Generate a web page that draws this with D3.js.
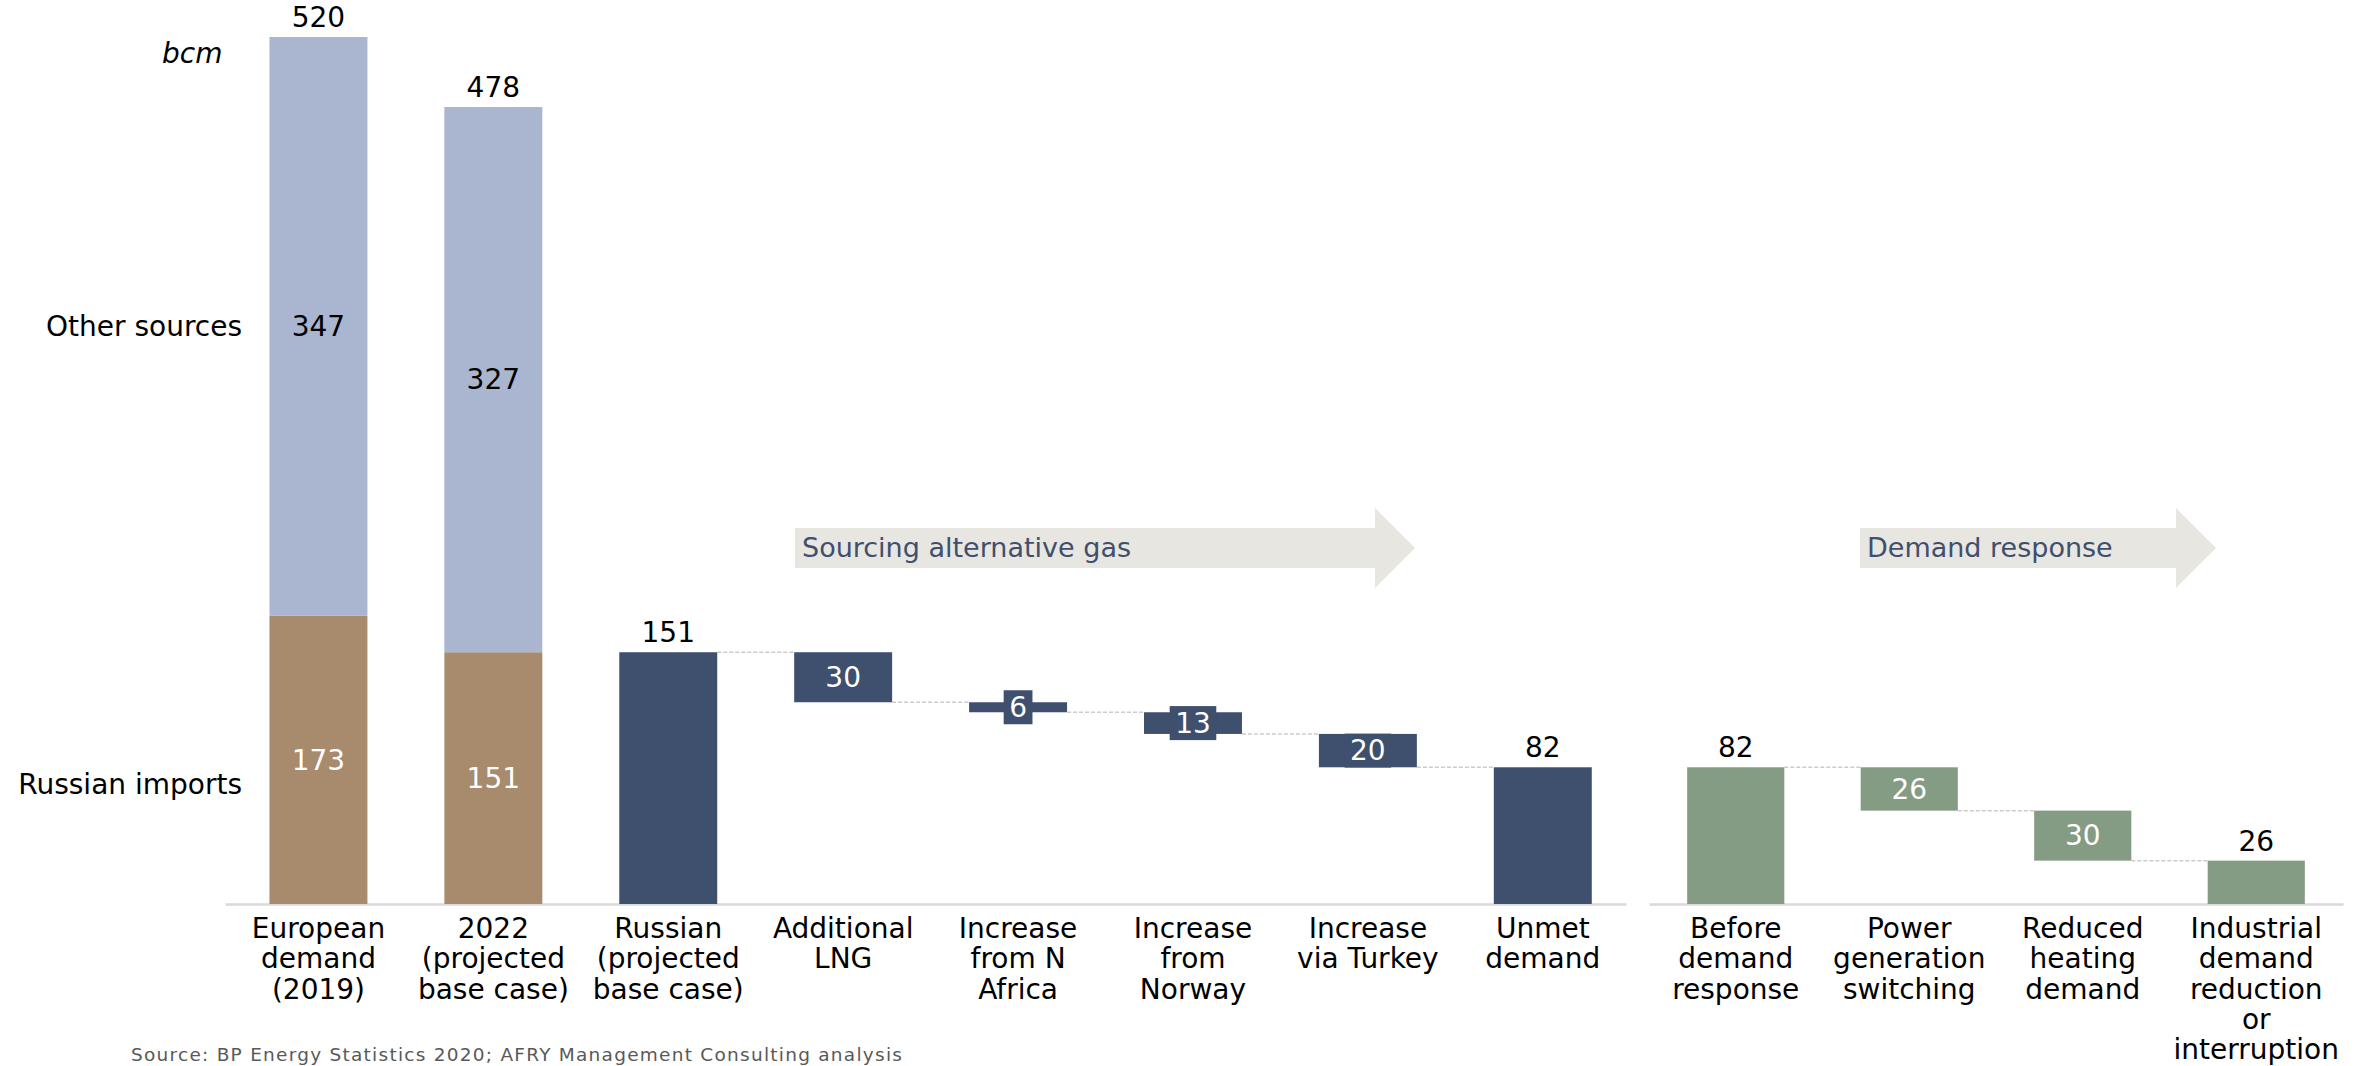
<!DOCTYPE html>
<html>
<head>
<meta charset="utf-8">
<script src="https://cdn.jsdelivr.net/npm/d3@7"></script>
<style>
  html, body { margin: 0; padding: 0; background: #ffffff; }
  svg { display: block; font-family: "DejaVu Sans", Verdana, sans-serif; }
</style>
</head>
<body>
<svg id="chart" width="2369" height="1066"></svg>
<script>
// ---------------- DATA ----------------
const stackCategories = ["European demand (2019)", "2022 (projected base case)"];
const russianImports = [173, 151];
const otherSources = [347, 327];
const stackTotals = [520, 478];

const sourcingCategories = ["Russian (projected base case)", "Additional LNG", "Increase from N Africa",
  "Increase from Norway", "Increase via Turkey", "Unmet demand"];
const sourcingValues = [151, -30, -6, -13, -20, 82];      // first & last are totals
const sourcingIsTotal = [true, false, false, false, false, true];

const demandCategories = ["Before demand response", "Power generation switching", "Reduced heating demand",
  "Industrial demand reduction or interruption"];
const demandValues = [82, -26, -30, 26];                  // first & last are totals
const demandIsTotal = [true, false, false, true];

const tickLinesLeft = [
  ["European", "demand", "(2019)"],
  ["2022", "(projected", "base case)"],
  ["Russian", "(projected", "base case)"],
  ["Additional", "LNG"],
  ["Increase", "from N", "Africa"],
  ["Increase", "from", "Norway"],
  ["Increase", "via Turkey"],
  ["Unmet", "demand"]
];
const tickLinesRight = [
  ["Before", "demand", "response"],
  ["Power", "generation", "switching"],
  ["Reduced", "heating", "demand"],
  ["Industrial", "demand", "reduction", "or", "interruption"]
];
const seriesNames = ["Other sources", "Russian imports"];
const arrowLabels = ["Sourcing alternative gas", "Demand response"];
const unitLabel = "bcm";
const sourceNote = "Source: BP Energy Statistics 2020; AFRY Management Consulting analysis";

// ---------------- STYLE ----------------
const C = {
  other: "#aab6cf", russian: "#a88a6d", navy: "#3f4f6e", green: "#849c84",
  arrow: "#e8e6e0", arrowText: "#3f4f6e", axis: "#d9d9d9", conn: "#cccccc"
};
const FS = 28;

const svg = d3.select("#chart");

// ---------------- SCALES ----------------
const leftCats = stackCategories.concat(sourcingCategories);
const xL = d3.scaleBand().domain(leftCats).range([225, 1626])
  .paddingInner(0.44).paddingOuter(0.225).align(0.565);
const xR = d3.scaleBand().domain(demandCategories).range([1649, 2343])
  .paddingInner(0.44).paddingOuter(0.22);
const y = d3.scaleLinear().domain([0, 520]).range([904, 37]);

// ---------------- AXES ----------------
function drawAxis(scale, lines) {
  const g = svg.append("g").attr("transform", `translate(0,${y(0)})`)
    .call(d3.axisBottom(scale).tickSize(0).tickSizeOuter(0));
  g.select(".domain").attr("stroke", C.axis).attr("stroke-width", 2.5);
  g.selectAll(".tick text").each(function(d, i) {
    const t = d3.select(this).text(null)
      .attr("y", 34).attr("dy", null)
      .attr("font-size", FS).attr("font-family", '"DejaVu Sans", Verdana, sans-serif')
      .attr("fill", "#000");
    lines[i].forEach((ln, j) => {
      t.append("tspan").attr("x", 0).attr("dy", j === 0 ? 0 : 30.3).text(ln);
    });
  });
}
drawAxis(xL, tickLinesLeft);
drawAxis(xR, tickLinesRight);

// ---------------- ARROWS ----------------
function drawArrow(x0, x1, xt, label) {
  const top = 528, bot = 568, htop = 508, hbot = 588, mid = 548;
  svg.append("path")
    .attr("d", `M${x0},${top} L${x1},${top} L${x1},${htop} L${xt},${mid} L${x1},${hbot} L${x1},${bot} L${x0},${bot} Z`)
    .attr("fill", C.arrow);
  svg.append("text").attr("x", x0 + 7).attr("y", mid).attr("dy", "0.35em")
    .attr("font-size", 27).attr("fill", C.arrowText).text(label);
}
drawArrow(795, 1375, 1415, arrowLabels[0]);
drawArrow(1860, 2176, 2216, arrowLabels[1]);

// ---------------- STACKED BARS ----------------
const stackG = svg.append("g");
stackCategories.forEach((cat, i) => {
  const x = xL(cat), w = xL.bandwidth(), cx = x + w / 2;
  const r = russianImports[i], o = otherSources[i];
  stackG.append("rect").attr("x", x).attr("width", w)
    .attr("y", y(r)).attr("height", y(0) - y(r)).attr("fill", C.russian);
  stackG.append("rect").attr("x", x).attr("width", w)
    .attr("y", y(r + o)).attr("height", y(r) - y(r + o)).attr("fill", C.other);
  stackG.append("text").attr("x", cx).attr("y", y(r / 2)).attr("dy", "0.35em")
    .attr("text-anchor", "middle").attr("font-size", FS).attr("fill", "#fff").text(r);
  stackG.append("text").attr("x", cx).attr("y", y(r + o / 2)).attr("dy", "0.35em")
    .attr("text-anchor", "middle").attr("font-size", FS).attr("fill", "#000").text(o);
  stackG.append("text").attr("x", cx).attr("y", y(stackTotals[i]) - 10)
    .attr("text-anchor", "middle").attr("font-size", FS).attr("fill", "#000").text(stackTotals[i]);
});

// ---------------- WATERFALLS ----------------
function drawWaterfall(scale, cats, vals, isTotal, color) {
  const g = svg.append("g");
  let running = 0;
  const segs = cats.map((c, i) => {
    let lo, hi;
    if (isTotal[i]) { lo = 0; hi = vals[i]; running = vals[i]; }
    else { hi = running; running = running + vals[i]; lo = running; }
    return { c, lo, hi, total: isTotal[i], v: vals[i], end: running };
  });
  // connectors
  segs.forEach((s, i) => {
    if (i === segs.length - 1) return;
    const level = s.total ? s.hi : s.lo;
    g.append("line")
      .attr("x1", scale(s.c) + scale.bandwidth()).attr("x2", scale(segs[i + 1].c))
      .attr("y1", y(level)).attr("y2", y(level))
      .attr("stroke", C.conn).attr("stroke-width", 1.5).attr("stroke-dasharray", "4,2");
  });
  segs.forEach(s => {
    const x = scale(s.c), w = scale.bandwidth(), cx = x + w / 2;
    g.append("rect").attr("x", x).attr("width", w)
      .attr("y", y(s.hi)).attr("height", y(s.lo) - y(s.hi)).attr("fill", color);
    if (s.total) {
      g.append("text").attr("x", cx).attr("y", y(s.hi) - 10)
        .attr("text-anchor", "middle").attr("font-size", FS).attr("fill", "#000").text(s.v);
    } else {
      const label = String(Math.abs(s.v));
      const cy = (y(s.hi) + y(s.lo)) / 2;
      const tw = label.length * 0.636 * FS + 11;
      g.append("rect").attr("x", cx - tw / 2).attr("width", tw)
        .attr("y", cy - 17).attr("height", 34).attr("fill", color);
      g.append("text").attr("x", cx).attr("y", cy).attr("dy", "0.35em")
        .attr("text-anchor", "middle").attr("font-size", FS).attr("fill", "#fff").text(label);
    }
  });
}
drawWaterfall(xL, sourcingCategories, sourcingValues, sourcingIsTotal, C.navy);
drawWaterfall(xR, demandCategories, demandValues, demandIsTotal, C.green);

// ---------------- SIDE LABELS ----------------
svg.append("text").attr("x", 242).attr("y", y(russianImports[0] + otherSources[0] / 2)).attr("dy", "0.35em")
  .attr("text-anchor", "end").attr("font-size", FS).attr("fill", "#000").text(seriesNames[0]);
svg.append("text").attr("x", 242).attr("y", y(72)).attr("dy", "0.35em")
  .attr("text-anchor", "end").attr("font-size", FS).attr("fill", "#000").text(seriesNames[1]);
svg.append("text").attr("x", 162).attr("y", 53).attr("dy", "0.35em")
  .attr("font-size", FS).attr("font-style", "italic").attr("fill", "#000").text(unitLabel);

// ---------------- SOURCE ----------------
svg.append("text").attr("x", 131).attr("y", 1055).attr("dy", "0.35em")
  .attr("font-size", 18.5).attr("letter-spacing", 1.25).attr("fill", "#595959").text(sourceNote);
</script>
</body>
</html>
